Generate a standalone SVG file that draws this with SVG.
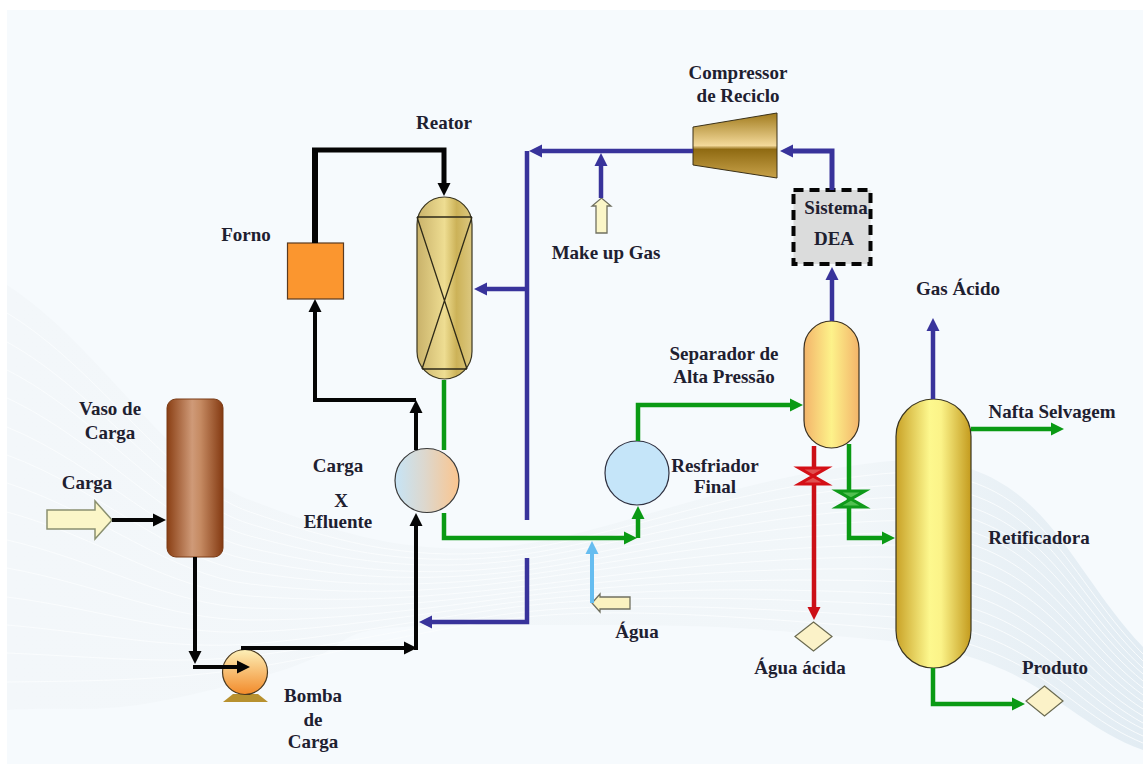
<svg xmlns="http://www.w3.org/2000/svg" width="1143" height="764" viewBox="0 0 1143 764">
<style>
text{font-family:"Liberation Serif","Times New Roman",serif;font-weight:bold;font-size:19px;fill:#1e2030;text-anchor:middle}
.w{fill:none;stroke:#fbfdfe;stroke-width:1;opacity:.9}
.c{fill:none;stroke-linejoin:miter;stroke-linecap:butt}
.k{stroke:#050505;stroke-width:4}
.b{stroke:#38339b;stroke-width:4.5}
.g{stroke:#0a9a14;stroke-width:4.5}
.r{stroke:#cc0f16;stroke-width:4.5}
.l{stroke:#66bdf0;stroke-width:4}
</style>
<defs>
<marker id="mk" markerUnits="userSpaceOnUse" markerWidth="14" markerHeight="14" viewBox="0 -7 14 14" refX="1" refY="0" orient="auto"><path d="M0-6.5L13 0L0 6.5z" fill="#050505"/></marker>
<marker id="mb" markerUnits="userSpaceOnUse" markerWidth="14" markerHeight="14" viewBox="0 -7 14 14" refX="1" refY="0" orient="auto"><path d="M0-6.5L13 0L0 6.5z" fill="#38339b"/></marker>
<marker id="mg" markerUnits="userSpaceOnUse" markerWidth="14" markerHeight="14" viewBox="0 -7 14 14" refX="1" refY="0" orient="auto"><path d="M0-6.5L13 0L0 6.5z" fill="#0a9a14"/></marker>
<marker id="mr" markerUnits="userSpaceOnUse" markerWidth="14" markerHeight="14" viewBox="0 -7 14 14" refX="1" refY="0" orient="auto"><path d="M0-6.5L13 0L0 6.5z" fill="#cc0f16"/></marker>
<marker id="ml" markerUnits="userSpaceOnUse" markerWidth="14" markerHeight="14" viewBox="0 -7 14 14" refX="1" refY="0" orient="auto"><path d="M0-6.5L13 0L0 6.5z" fill="#66bdf0"/></marker>
<linearGradient id="vaso"><stop offset="0" stop-color="#8a3f14"/><stop offset=".45" stop-color="#cf9a78"/><stop offset=".6" stop-color="#c58a62"/><stop offset="1" stop-color="#843a12"/></linearGradient>
<linearGradient id="reator"><stop offset="0" stop-color="#c9b26a"/><stop offset=".5" stop-color="#eedd92"/><stop offset=".72" stop-color="#ccb258"/><stop offset="1" stop-color="#dcc880"/></linearGradient>
<linearGradient id="comp" x1="0" y1="0" x2="0" y2="1"><stop offset="0" stop-color="#a07a1c"/><stop offset=".5" stop-color="#f3d99a"/><stop offset=".56" stop-color="#8f6a12"/><stop offset="1" stop-color="#c8a24a"/></linearGradient>
<linearGradient id="sep"><stop offset="0" stop-color="#f3b46a"/><stop offset=".5" stop-color="#fdf28a"/><stop offset="1" stop-color="#f3b46a"/></linearGradient>
<linearGradient id="torre"><stop offset="0" stop-color="#c9a227"/><stop offset=".45" stop-color="#fdf88e"/><stop offset=".6" stop-color="#fbf388"/><stop offset="1" stop-color="#c49b1e"/></linearGradient>
<linearGradient id="troca"><stop offset="0" stop-color="#c6e4f6"/><stop offset=".45" stop-color="#dcd8cf"/><stop offset="1" stop-color="#fbc58e"/></linearGradient>
<linearGradient id="bomba" x1="0" y1="0" x2="0" y2="1"><stop offset="0" stop-color="#fdf0b8"/><stop offset="1" stop-color="#f28a2a"/></linearGradient>
<linearGradient id="fundo" x1="0" y1="0" x2="1" y2="0"><stop offset="0" stop-color="#f3f7fa"/><stop offset=".75" stop-color="#f1f6f9"/><stop offset="1" stop-color="#e2ecf3"/></linearGradient>
</defs>
<rect width="1143" height="764" fill="#fff"/>
<rect x="7" y="10" width="1136" height="754" fill="#f6fafd"/>
<g id="fundo-ondas">
<path fill="url(#fundo)" d="M7 285C100 345 170 470 250 500S400 555 500 547S720 480 880 462S1060 560 1143 647V750C1060 720 1040 655 880 640S720 625 500 625S400 640 250 680S100 705 7 710Z"/>
<path class="w" d="M7 313C100 369 170 485 250 512S400 561 500 552S720 490 880 474S1060 571 1143 654"/>
<path class="w" d="M7 342C100 393 170 500 250 524S400 566 500 557S720 499 880 486S1060 581 1143 661"/>
<path class="w" d="M7 370C100 417 170 515 250 536S400 572 500 562S720 509 880 498S1060 592 1143 668"/>
<path class="w" d="M7 398C100 441 170 530 250 548S400 578 500 568S720 519 880 509S1060 603 1143 674"/>
<path class="w" d="M7 427C100 465 170 545 250 560S400 583 500 573S720 528 880 521S1060 613 1143 681"/>
<path class="w" d="M7 455C100 489 170 560 250 572S400 589 500 578S720 538 880 533S1060 624 1143 688"/>
<path class="w" d="M7 483C100 513 170 575 250 584S400 595 500 583S720 548 880 545S1060 635 1143 695"/>
<path class="w" d="M7 512C100 537 170 590 250 596S400 600 500 589S720 558 880 557S1060 645 1143 702"/>
<path class="w" d="M7 540C100 561 170 605 250 608S400 606 500 594S720 567 880 569S1060 656 1143 709"/>
<path class="w" d="M7 568C100 585 170 620 250 620S400 612 500 599S720 577 880 581S1060 667 1143 716"/>
<path class="w" d="M7 597C100 609 170 635 250 632S400 617 500 604S720 586 880 593S1060 677 1143 723"/>
<path class="w" d="M7 625C100 633 170 650 250 644S400 623 500 609S720 596 880 604S1060 688 1143 729"/>
<path class="w" d="M7 653C100 657 170 665 250 656S400 629 500 615S720 606 880 616S1060 699 1143 736"/>
<path class="w" d="M7 682C100 681 170 680 250 668S400 634 500 620S720 615 880 628S1060 709 1143 743"/>
</g>
<g id="vaso-carga"><rect x="167" y="399" width="56" height="158" rx="9" fill="url(#vaso)" stroke="#7a3a14" stroke-width="1"/></g>
<g id="bomba-carga"><path d="M233 694L223 702H268L258 694Z" fill="#b8912f"/><circle cx="245" cy="672" r="22.5" fill="url(#bomba)" stroke="#4a3a20" stroke-width="1.2"/></g>
<g id="forno"><rect x="287.500" y="243" width="56" height="56" fill="#fb962f" stroke="#5a3a20" stroke-width="1.2"/></g>
<g id="reator"><rect x="417" y="197" width="55" height="182" rx="27.5" fill="url(#reator)" stroke="#3a3520" stroke-width="1.2"/><path d="M417 217H472M422 369H467M417 217L467 369M472 217L422 369" fill="none" stroke="#2e2a18" stroke-width="1.3"/></g>
<g id="troca-carga"><circle cx="427" cy="480.500" r="32" fill="url(#troca)" stroke="#3a3a3a" stroke-width="1.2"/></g>
<g id="resfriador"><circle cx="637" cy="473" r="32" fill="#c5e5f9" stroke="#2e3040" stroke-width="1.2"/></g>
<g id="compressor"><path d="M693 127L777 113V178L693 165Z" fill="url(#comp)" stroke="#3a3018" stroke-width="1"/></g>
<g id="sistema-dea"><rect x="793.500" y="190" width="77" height="74" fill="#dbdcdc" stroke="#050505" stroke-width="4" stroke-dasharray="10 6"/></g>
<g id="separador"><rect x="804" y="321" width="55" height="127" rx="27.500" fill="url(#sep)" stroke="#3a3020" stroke-width="1.2"/></g>
<g id="retificadora"><rect x="896" y="399" width="75" height="269" rx="37.500" fill="url(#torre)" stroke="#3a3520" stroke-width="1.2"/></g>
<g id="entrada-carga"><path d="M47 510H95V501L112 520L95 539V529H47Z" fill="#fbf6c8" stroke="#8a9070" stroke-width="1.5"/></g>
<g id="entrada-makeup"><path d="M596 233V206H592L601.500 198L611 206H607V233Z" fill="#fbf6c8" stroke="#707060" stroke-width="1.3"/></g>
<g id="entrada-agua"><path d="M630 597H600V594L592 603L600 612V609H630Z" fill="#fbf2c0" stroke="#707060" stroke-width="1.3"/></g>
<g id="saida-agua-acida"><path d="M813.500 622L832 636.500L813.500 651L795 636.500Z" fill="#fbf2c8" stroke="#6a6a50" stroke-width="1.2"/></g>
<g id="saida-produto"><path d="M1044.500 686L1063 701L1044.500 716L1026 701Z" fill="#fbf2c8" stroke="#6a6a50" stroke-width="1.2"/></g>
<g id="connectors">
<path class="c k" marker-end="url(#mk)" d="M112 520H154"/>
<path class="c k" marker-end="url(#mk)" d="M195 557V652"/>
<path class="c k" marker-end="url(#mk)" d="M195 665V667H238"/>
<path class="c k" marker-end="url(#mk)" d="M241 648H405"/>
<path class="c k" marker-end="url(#mk)" d="M416 650V525"/>
<path class="c k" marker-end="url(#mk)" d="M416 450V412"/>
<path class="c k" marker-end="url(#mk)" d="M416 400H315V311"/>
<path class="c k" style="stroke-width:6" d="M315 243V150"/>
<path class="c k" style="stroke-width:5" marker-end="url(#mk)" d="M312 150H444V184"/>
<path class="c b" d="M527 520V151"/>
<path class="c b" marker-end="url(#mb)" d="M693 151H541"/>
<path class="c b" marker-end="url(#mb)" d="M527 289H486"/>
<path class="c b" marker-end="url(#mb)" d="M601 198V165"/>
<path class="c b" style="stroke-width:5" marker-end="url(#mb)" d="M832 190V151H792"/>
<path class="c b" marker-end="url(#mb)" d="M832 321V279"/>
<path class="c b" marker-end="url(#mb)" d="M527 558V622H431"/>
<path class="c b" marker-end="url(#mb)" d="M933 399V330"/>
<path class="c g" d="M444 380V450"/>
<path class="c g" marker-end="url(#mg)" d="M444 513V538H625"/>
<path class="c g" marker-end="url(#mg)" d="M638 538V518"/>
<path class="c g" marker-end="url(#mg)" d="M638 441V405H791"/>
<path class="c g" marker-end="url(#mg)" d="M849 444V538H883"/>
<path class="c g" marker-end="url(#mg)" d="M971 429H1052"/>
<path class="c g" marker-end="url(#mg)" d="M933 668V704H1013"/>
<path class="c r" marker-end="url(#mr)" d="M814 446V608"/>
<path class="c l" marker-end="url(#ml)" d="M592 603V553"/>
</g>
<g id="valvula-vermelha"><path d="M799 468H827L813 476L827 484H799L813 476Z" fill="#e05050" stroke="#d40f16" stroke-width="3"/></g>
<g id="valvula-verde"><path d="M837 491H865L851 499L865 507H837L851 499Z" fill="#50c050" stroke="#0f9a1a" stroke-width="3"/></g>
<g id="rotulos">
<text x="110" y="415">Vaso de</text>
<text x="110" y="439">Carga</text>
<text x="87" y="489">Carga</text>
<text x="338" y="472">Carga</text>
<text x="341" y="507">X</text>
<text x="338" y="528">Efluente</text>
<text x="313" y="702">Bomba</text>
<text x="313" y="726">de</text>
<text x="313" y="748">Carga</text>
<text x="444" y="129">Reator</text>
<text x="246" y="241">Forno</text>
<text x="738" y="79">Compressor</text>
<text x="738" y="102">de Reciclo</text>
<text x="606" y="259">Make up Gas</text>
<text x="836" y="214">Sistema</text>
<text x="834" y="245">DEA</text>
<text x="724" y="360">Separador de</text>
<text x="724" y="383">Alta Pressão</text>
<text x="715" y="472">Resfriador</text>
<text x="715" y="493">Final</text>
<text x="637" y="638">Água</text>
<text x="800" y="674">Água ácida</text>
<text x="958" y="295">Gas Ácido</text>
<text x="1052" y="418">Nafta Selvagem</text>
<text x="1039" y="544">Retificadora</text>
<text x="1055" y="674">Produto</text>
</g>
</svg>
